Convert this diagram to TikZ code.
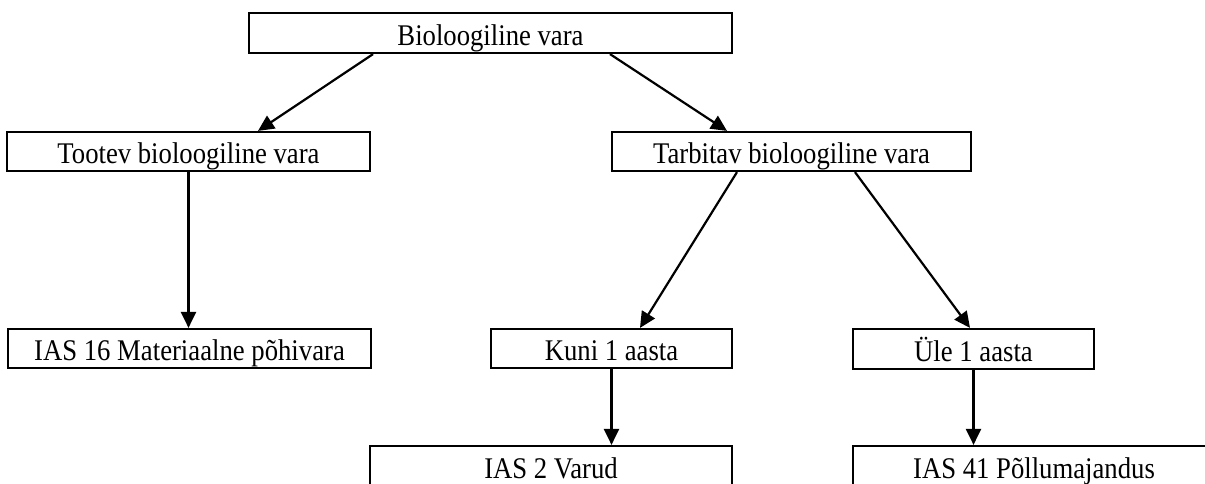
\documentclass[tikz,border=0pt]{standalone}
\usepackage{fontspec}
\setmainfont{Liberation Serif}
\usepackage{graphicx}
\usetikzlibrary{arrows.meta}
\newcommand{\lbl}[1]{\scalebox{0.89}[1]{#1}}
\tikzset{
  box/.style={draw=black, line width=2.2pt, fill=white, inner sep=0pt, anchor=center,
    text height=31.5pt, text depth=7.5pt,
    font=\fontsize{30}{33}\selectfont},
  conn/.style={line width=2.2pt, -{Triangle[length=16pt,width=15pt]}}
}
\begin{document}
\begin{tikzpicture}[x=1pt,y=-1pt]
\useasboundingbox (0,0) rectangle (1205,483);
\clip (0,0) rectangle (1205,483);
\node[box, minimum width=483pt, minimum height=40pt] (top) at (490.5,33) {\lbl{Bioloogiline vara}};
\node[box, minimum width=363pt, minimum height=39pt] (tootev) at (188.5,151.5) {\lbl{Tootev bioloogiline vara}};
\node[box, minimum width=359pt, minimum height=39pt] (tarb) at (791.5,151.5) {\lbl{Tarbitav bioloogiline vara}};
\node[box, minimum width=363pt, minimum height=39pt] (ias16) at (189.5,348.5) {\lbl{IAS 16 Materiaalne põhivara}};
\node[box, minimum width=241pt, minimum height=39pt] (kuni) at (611.5,348.5) {\lbl{Kuni 1 aasta}};
\node[box, minimum width=241pt, minimum height=40pt] (yle) at (973.5,349) {\lbl{Üle 1 aasta}};
\node[box, minimum width=362pt, minimum height=40pt] (ias2) at (551,466) {\lbl{IAS 2 Varud}};
\node[box, minimum width=362pt, minimum height=40pt] (ias41) at (1034,466) {\lbl{IAS 41 Põllumajandus}};
\draw[conn] ([xshift=-117.5pt]top.south) -- ([xshift=69.5pt]tootev.north);
\draw[conn] ([xshift=119.5pt]top.south) -- ([xshift=-64.5pt]tarb.north);
\draw[conn] (tootev.south) -- (tootev.south |- ias16.north);
\draw[conn] ([xshift=-54.5pt]tarb.south) -- ([xshift=28.5pt]kuni.north);
\draw[conn] ([xshift=63.5pt]tarb.south) -- ([xshift=-3.5pt]yle.north);
\draw[conn] (kuni.south) -- (kuni.south |- ias2.north);
\draw[conn] (yle.south) -- (yle.south |- ias41.north);
\end{tikzpicture}
\end{document}
